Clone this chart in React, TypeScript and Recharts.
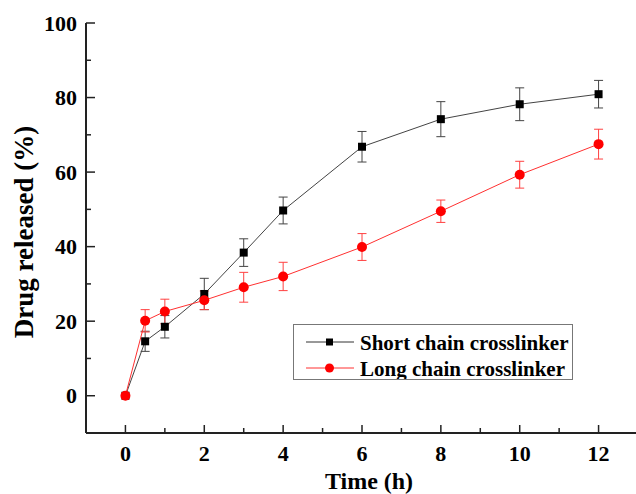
import React from 'react';
import { ComposedChart, Line, XAxis, YAxis, ErrorBar, Legend, Label } from 'recharts';

const times = [0, 0.5, 1, 2, 3, 4, 6, 8, 10, 12];
const shortChain = [0, 14.6, 18.5, 27.3, 38.4, 49.7, 66.8, 74.2, 78.2, 80.9];
const shortErr = [0, 2.7, 3.0, 4.2, 3.7, 3.6, 4.1, 4.7, 4.4, 3.7];
const longChain = [0, 20.1, 22.6, 25.6, 29.1, 32.0, 39.9, 49.5, 59.3, 67.5];
const longErr = [0, 3.0, 3.3, 2.5, 4.0, 3.8, 3.6, 3.0, 3.6, 4.0];

const xTicks = [0, 1, 2, 3, 4, 5, 6, 7, 8, 9, 10, 11, 12];
const yTicks = [0, 10, 20, 30, 40, 50, 60, 70, 80, 90, 100];
const seriesNames = ['Short chain crosslinker', 'Long chain crosslinker'];

const data = times.map((t, i) => ({
  t,
  short: shortChain[i],
  shortErr: shortErr[i],
  long: longChain[i],
  longErr: longErr[i],
}));

const FONT = '"Liberation Serif", "Times New Roman", serif';
const AXIS = '#222';

const XTick = (props: any) => {
  const { x, y, payload } = props;
  const v = payload.value;
  const major = v % 2 === 0;
  return (
    <g>
      <line x1={x} y1={y} x2={x} y2={y - (major ? 8 : 5)} stroke={AXIS} strokeWidth={1.5} />
      {major && (
        <text x={x} y={y + 28} textAnchor="middle" fontFamily={FONT} fontWeight="bold" fontSize={22} fill="#000">
          {v}
        </text>
      )}
    </g>
  );
};

const YTick = (props: any) => {
  const { x, y, payload } = props;
  const v = payload.value;
  const major = v % 20 === 0;
  return (
    <g>
      <line x1={x} y1={y} x2={x + (major ? 9 : 5)} y2={y} stroke={AXIS} strokeWidth={1.5} />
      {major && (
        <text x={x - 9} y={y + 7.5} textAnchor="end" fontFamily={FONT} fontWeight="bold" fontSize={22} fill="#000">
          {v}
        </text>
      )}
    </g>
  );
};

const SquareDot = (props: any) => {
  const { cx, cy, index } = props;
  if (cx == null || cy == null) return <g key={`s${index}`} />;
  return <rect key={`s${index}`} x={cx - 4} y={cy - 4} width={8} height={8} fill="#000" />;
};

const CircleDot = (props: any) => {
  const { cx, cy, index } = props;
  if (cx == null || cy == null) return <g key={`c${index}`} />;
  return <circle key={`c${index}`} cx={cx} cy={cy} r={5} fill="#ff0000" />;
};

const LegendBox = () => (
  <div
    style={{
      position: 'absolute',
      left: 293,
      top: 324,
      width: 278,
      height: 54,
      border: '1px solid #777',
      background: '#fff',
      fontFamily: FONT,
      fontWeight: 'bold',
      fontSize: 21,
      color: '#000',
    }}
  >
    <svg width={278} height={54} style={{ position: 'absolute', left: 0, top: 0 }}>
      <line x1={12} y1={17} x2={60} y2={17} stroke="#333" strokeWidth={1} />
      <rect x={32} y={13.5} width={7} height={7} fill="#000" />
      <text x={66} y={24.5} fontFamily={FONT} fontWeight="bold" fontSize={21} fill="#000">{seriesNames[0]}</text>
      <line x1={12} y1={43} x2={60} y2={43} stroke="#ff3030" strokeWidth={1} />
      <circle cx={35.5} cy={43} r={4.5} fill="#ff0000" />
      <text x={66} y={50.5} fontFamily={FONT} fontWeight="bold" fontSize={21} fill="#000">{seriesNames[1]}</text>
    </svg>
  </div>
);

export default function App() {
  return (
    <div style={{ position: 'absolute', left: 0, top: 0, width: 636, height: 494, overflow: 'hidden', background: '#fff' }}>
      <ComposedChart width={640} height={494} data={data} margin={{ top: 23, right: 2, bottom: 0, left: 0 }}>
        <XAxis
          xAxisId="main"
          dataKey="t"
          type="number"
          domain={[-1, 13]}
          ticks={xTicks}
          interval={0}
          allowDataOverflow
          height={61}
          tickSize={0}
          tickMargin={0}
          tickLine={false}
          tick={<XTick />}
          axisLine={{ stroke: AXIS, strokeWidth: 2 }}
        >
          <Label
            content={(p: any) => {
              const vb = p.viewBox || {};
              const cx = (vb.x || 0) + (vb.width || 0) / 2 + 7;
              return (
                <text x={cx} y={489} textAnchor="middle" fontFamily={FONT} fontWeight="bold" fontSize={24} fill="#000">
                  Time (h)
                </text>
              );
            }}
          />
        </XAxis>
        <XAxis
          xAxisId="top"
          orientation="top"
          type="number"
          domain={[-1, 13]}
          height={0}
          tick={false}
          tickLine={false}
          axisLine={{ stroke: AXIS, strokeWidth: 2 }}
        />
        <YAxis
          yAxisId="main"
          type="number"
          domain={[-10, 100]}
          ticks={yTicks}
          interval={0}
          allowDataOverflow
          width={86}
          tickSize={0}
          tickMargin={0}
          tickLine={false}
          tick={<YTick />}
          axisLine={{ stroke: AXIS, strokeWidth: 2 }}
        >
          <Label
            content={(p: any) => {
              const vb = p.viewBox || {};
              const cy = (vb.y || 0) + (vb.height || 0) / 2 + 4;
              return (
                <text
                  x={24}
                  y={cy}
                  transform={`rotate(-90, 24, ${cy})`}
                  textAnchor="middle"
                  dominantBaseline="central"
                  fontFamily={FONT}
                  fontWeight="bold"
                  fontSize={27}
                  fill="#000"
                >
                  Drug released (%)
                </text>
              );
            }}
          />
        </YAxis>
        <YAxis
          yAxisId="right"
          orientation="right"
          type="number"
          domain={[-10, 100]}
          width={0}
          tick={false}
          tickLine={false}
          axisLine={{ stroke: AXIS, strokeWidth: 2 }}
        />
        <Legend content={() => null} />
        <Line
          xAxisId="main"
          yAxisId="main"
          type="linear"
          dataKey="short"
          name={seriesNames[0]}
          stroke="#444"
          strokeWidth={1}
          dot={SquareDot}
          activeDot={false}
          isAnimationActive={false}
        >
          <ErrorBar dataKey="shortErr" direction="y" width={4.5} stroke="#444" strokeWidth={1} isAnimationActive={false} />
        </Line>
        <Line
          xAxisId="main"
          yAxisId="main"
          type="linear"
          dataKey="long"
          name={seriesNames[1]}
          stroke="#ff3030"
          strokeWidth={1}
          dot={CircleDot}
          activeDot={false}
          isAnimationActive={false}
        >
          <ErrorBar dataKey="longErr" direction="y" width={4.5} stroke="#ff4040" strokeWidth={1} isAnimationActive={false} />
        </Line>
      </ComposedChart>
      <LegendBox />
    </div>
  );
}
